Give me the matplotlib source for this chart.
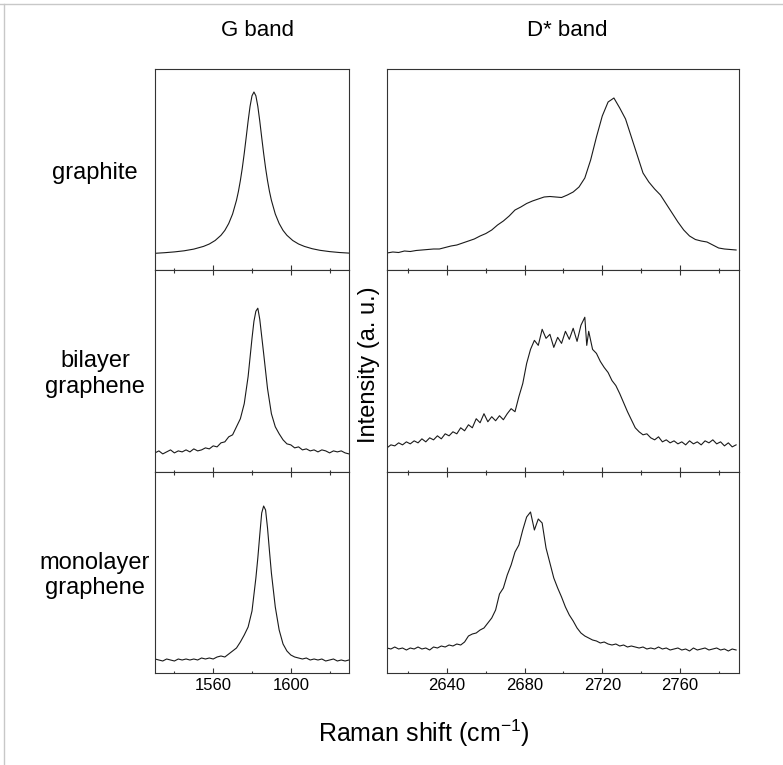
import matplotlib
matplotlib.use("Agg")
import matplotlib.pyplot as plt
from matplotlib.lines import Line2D
from matplotlib.ticker import MultipleLocator

plt.rcParams['font.family'] = ['Liberation Sans', 'DejaVu Sans']
plt.rcParams['mathtext.fontset'] = 'custom'
plt.rcParams['mathtext.rm'] = 'Liberation Sans'

# ---- data (intensity in arbitrary units) ----
row_labels = ["graphite", "bilayer\ngraphene", "monolayer\ngraphene"]
col_titles = ["G band", "D* band"]

# G band, graphite
g_graphite_x = [1530, 1535, 1540, 1545, 1550, 1555, 1558, 1561, 1564, 1566, 1568, 1570,
                1572, 1573, 1574, 1575, 1576, 1577, 1578, 1579, 1580, 1581, 1582, 1583,
                1584, 1585, 1586, 1587, 1588, 1589, 1590, 1592, 1594, 1596, 1598, 1601,
                1604, 1607, 1611, 1615, 1620, 1625, 1630]
g_graphite_y = [16.7, 17.3, 18.1, 19.2, 20.9, 23.6, 26, 29.5, 34.7, 39.6, 46.5, 56,
                69.7, 78.6, 89.4, 102, 116.6, 132.6, 149, 163.7, 174.2, 178, 174.2, 163.7,
                149, 132.6, 116.6, 102, 89.4, 78.6, 69.7, 56, 46.5, 39.6, 34.7, 29.5,
                26, 23.6, 21.3, 19.7, 18.4, 17.5, 16.9]

# G band, bilayer graphene
g_bilayer_x = [1530, 1532, 1534, 1536, 1538, 1540, 1542, 1544, 1546, 1548, 1550, 1552,
               1554, 1556, 1558, 1560, 1562, 1564, 1566, 1568, 1570, 1572, 1574, 1576,
               1578, 1580, 1581, 1582, 1583, 1584, 1586, 1588, 1590, 1592, 1594, 1596,
               1598, 1600, 1602, 1604, 1606, 1608, 1610, 1612, 1614, 1616, 1618, 1620,
               1622, 1624, 1626, 1628, 1630]
g_bilayer_y = [19, 21, 18, 20, 22, 19, 21, 20, 22, 20, 23, 21,
               22, 24, 23, 26, 25, 29, 30, 35, 37, 45, 53, 68,
               95, 133, 150, 160, 163, 152, 118, 83, 58, 45, 38, 32,
               28, 27, 24, 25, 22, 23, 21, 22, 20, 22, 21, 19,
               21, 20, 21, 19, 18]

# G band, monolayer graphene
g_mono_x = [1530, 1532, 1534, 1536, 1538, 1540, 1542, 1544, 1546, 1548, 1550, 1552,
            1554, 1556, 1558, 1560, 1562, 1564, 1566, 1568, 1570, 1572, 1574, 1576,
            1578, 1580, 1582, 1583, 1584, 1585, 1586, 1587, 1588, 1589, 1590, 1592,
            1594, 1596, 1598, 1600, 1602, 1604, 1606, 1608, 1610, 1612, 1614, 1616,
            1618, 1620, 1622, 1624, 1626, 1628, 1630]
g_mono_y = [14, 13, 12, 14, 13, 12, 14, 13, 14, 13, 14, 13,
            15, 14, 15, 14, 16, 17, 16, 19, 22, 25, 31, 38,
            46, 62, 95, 115, 138, 160, 167, 163, 145, 122, 100, 66,
            43, 29, 22, 18, 16, 15, 14, 15, 13, 14, 13, 14,
            12, 13, 14, 12, 13, 12, 13]

# D* band, graphite
d_graphite_x = list(range(2609, 2790, 3))
d_graphite_y = [17, 18, 17.5, 19, 18.5, 19.5, 20, 20.5, 21, 21,
                22.5, 24, 25, 27, 29, 31, 34, 36.5, 40, 45,
                49, 54, 60, 63, 66.5, 69, 71, 73, 73.5, 73,
                72.5, 75, 78, 83, 92, 110, 133, 154, 168, 172,
                162, 151, 133, 115, 97, 88, 81, 75, 66, 57,
                48, 40, 34, 30.5, 29, 28, 25, 22, 21, 20.5, 20]

# D* band, bilayer graphene
d_bilayer_x = list(range(2609, 2712, 2)) + [2712] + list(range(2713, 2790, 2))
d_bilayer_y = [24, 27, 26, 29, 27, 30, 28, 31, 29, 33,
               30, 34, 32, 36, 33, 38, 36, 40, 38, 44,
               41, 47, 44, 53, 49, 58, 50, 55, 51, 56,
               52, 58, 63, 60, 75, 88, 108, 122, 131, 126,
               142, 133, 137, 124, 134, 128, 140, 132, 143, 130,
               146, 154, 126, 140, 122, 118, 110, 104, 99, 91,
               86, 78, 69, 60, 52, 44, 40, 37, 38, 34,
               32, 35, 30, 32, 29, 31, 28, 30, 27, 31,
               28, 30, 27, 31, 29, 32, 28, 30, 26, 29,
               25, 27]

# D* band, monolayer graphene
d_mono_x = list(range(2609, 2790, 2))
d_mono_y = [25, 24, 26, 24, 25, 23, 25, 24, 26, 24,
            25, 23, 26, 25, 27, 26, 28, 27, 29, 28,
            31, 37, 39, 40, 43, 45, 50, 55, 63, 79,
            85, 98, 108, 121, 128, 143, 156, 161, 143, 154,
            150, 125, 110, 95, 85, 76, 66, 58, 52, 45,
            40, 37, 35, 33, 32, 30, 31, 29, 28, 29,
            27, 28, 26, 27, 26, 25, 26, 24, 25, 24,
            26, 24, 25, 23, 24, 25, 23, 24, 22, 25,
            23, 24, 25, 23, 24, 25, 23, 24, 22, 24, 23]

g_series = [(g_graphite_x, g_graphite_y), (g_bilayer_x, g_bilayer_y), (g_mono_x, g_mono_y)]
d_series = [(d_graphite_x, d_graphite_y), (d_bilayer_x, d_bilayer_y), (d_mono_x, d_mono_y)]

W, H = 783, 765
fig = plt.figure(figsize=(W / 100, H / 100), dpi=100)

# panel boxes in pixels: (left, right) columns, (top, bottom) rows
cols = [(155, 349), (387, 739)]
rows = [(69, 270), (270, 472), (472, 673)]
xlims = [(1530, 1630), (2609, 2790.5)]
major = [40, 40]
line_col = '#1a1a1a'
spine_col = '#333333'


def px_axes(l, r, t, b):
    return fig.add_axes([l / W, 1 - b / H, (r - l) / W, (b - t) / H])


for c, series in enumerate([g_series, d_series]):
    for r, (xs, ys) in enumerate(series):
        ax = px_axes(cols[c][0], cols[c][1], rows[r][0], rows[r][1])
        ax.plot(xs, ys, color=line_col, lw=0.8)
        ax.set_xlim(*xlims[c])
        ax.set_ylim(0, 201)
        ax.set_yticks([])
        ax.xaxis.set_major_locator(MultipleLocator(major[c]))
        ax.xaxis.set_minor_locator(MultipleLocator(major[c] / 2))
        ax.tick_params(axis='x', which='both', direction='in', color=spine_col,
                       width=0.8, top=(r > 0), bottom=True, labelsize=12)
        ax.tick_params(axis='x', which='major', length=3.6)
        ax.tick_params(axis='x', which='minor', length=1.8)
        if r < 2:
            ax.tick_params(axis='x', labelbottom=False)
        for s in ax.spines.values():
            s.set_color(spine_col)
            s.set_linewidth(0.8)

# column titles
fig.text(257.5 / W, 1 - 30 / H, col_titles[0], ha='center', va='center', fontsize=16)
fig.text(567 / W, 1 - 30 / H, col_titles[1], ha='center', va='center', fontsize=16)

# row labels
for (t, b), lab in zip(rows, row_labels):
    fig.text(95 / W, 1 - ((t + b) / 2 + 3) / H, lab, ha='center', va='center',
             fontsize=17, linespacing=1.2)

fig.text(369 / W, 1 - 365 / H, "Intensity (a. u.)", rotation=90,
         ha='center', va='center', fontsize=17)
fig.text(424 / W, 1 - 733 / H, "Raman shift (cm$^{\\mathregular{-1}}$)", ha='center',
         va='center', fontsize=18)

# thin grey frame at the top and left edge
fig.add_artist(Line2D([0, 1], [1 - 4 / H, 1 - 4 / H], transform=fig.transFigure,
                      color='#c8c8c8', lw=1))
fig.add_artist(Line2D([4 / W, 4 / W], [0, 1 - 4 / H], transform=fig.transFigure,
                      color='#c8c8c8', lw=1))

fig.savefig("out.png", dpi=100)
